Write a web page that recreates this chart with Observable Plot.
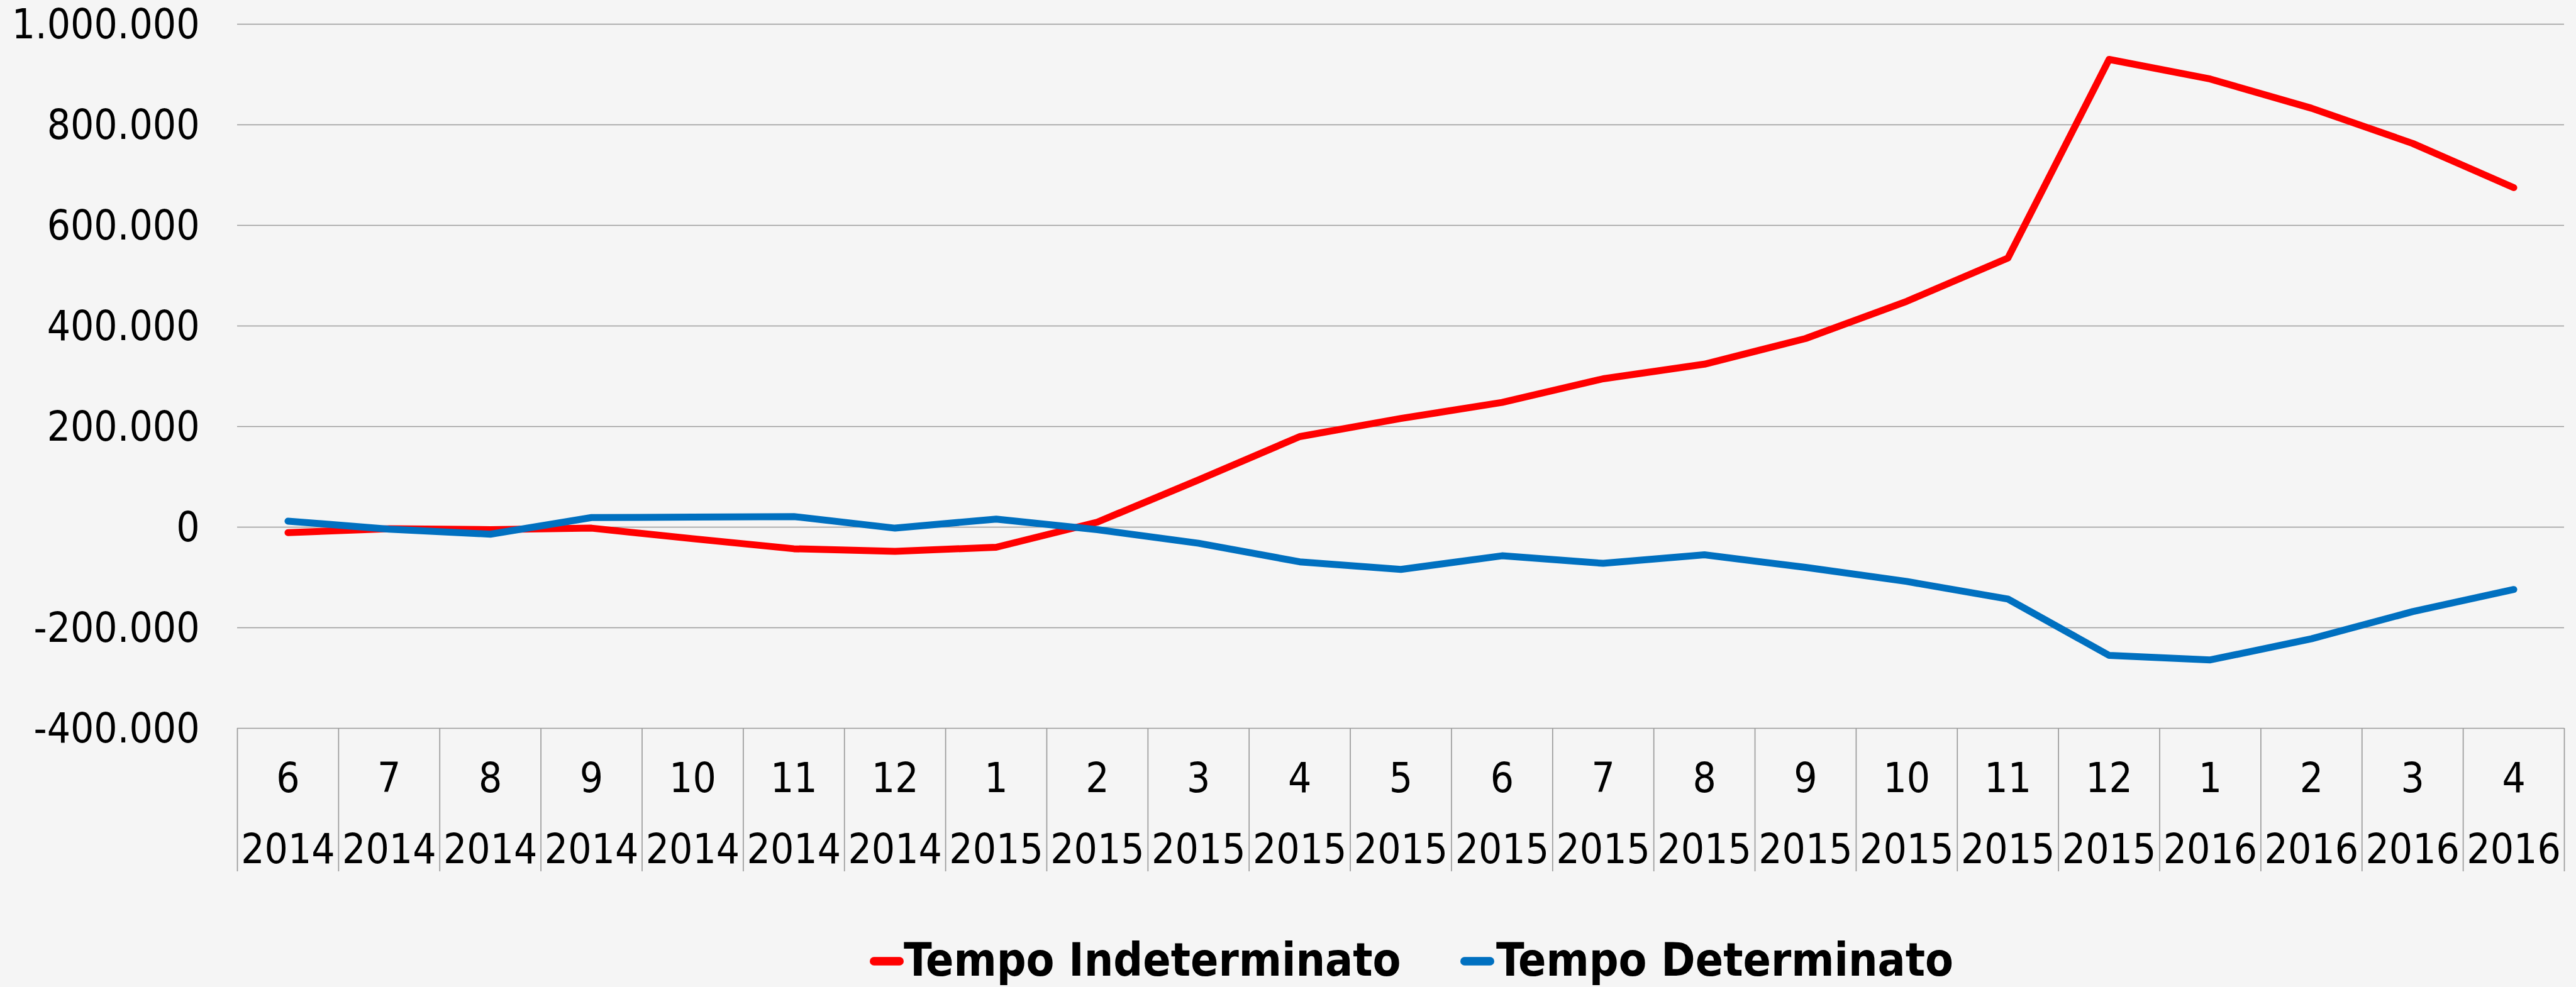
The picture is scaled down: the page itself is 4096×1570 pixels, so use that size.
<!DOCTYPE html>
<html>
<head>
<meta charset="utf-8">
<script src="https://cdn.jsdelivr.net/npm/d3@7"></script>
<script src="https://cdn.jsdelivr.net/npm/@observablehq/plot@0.6"></script>
<style>
  html, body { margin: 0; padding: 0; background: #f5f5f5; }
  #wrap { position: relative; width: 4096px; height: 1570px; background: #f5f5f5; overflow: hidden; }
  #wrap svg { display: block; }
</style>
</head>
<body>
<div id="wrap"></div>
<script>
// ---- data ----
const months = [6, 7, 8, 9, 10, 11, 12, 1, 2, 3, 4, 5, 6, 7, 8, 9, 10, 11, 12, 1, 2, 3, 4];
const years = [2014, 2014, 2014, 2014, 2014, 2014, 2014,
  2015, 2015, 2015, 2015, 2015, 2015, 2015, 2015, 2015, 2015, 2015, 2015,
  2016, 2016, 2016, 2016];
const indeterminato = [-11000, -3000, -5000, -2000, -23000, -43000, -48000, -40000,
  10000, 94000, 180000, 216000, 248000, 295000, 324000, 375000, 449000, 535000,
  930000, 891000, 833000, 763000, 675000];
const determinato = [12000, -4000, -14000, 19000, 20000, 21000, -2000, 16000,
  -5000, -32000, -69000, -84000, -57000, -72000, -55000, -80000, -108000, -143000,
  -255000, -264000, -222000, -168000, -124000];
const seriesNames = ["Tempo Indeterminato", "Tempo Determinato"];
const seriesColors = ["#ff0000", "#0070c0"];
const yTicks = [-400000, -200000, 0, 200000, 400000, 600000, 800000, 1000000];

// ---- build table ----
const idx = months.map((_, i) => i);
const rows = [
  ...indeterminato.map((v, i) => ({i, v, s: seriesNames[0]})),
  ...determinato.map((v, i) => ({i, v, s: seriesNames[1]}))
];
const bounds = d3.range(idx.length + 1).map(i => i - 0.5);
const itFormat = d3.formatLocale({decimal: ",", thousands: ".", grouping: [3], currency: ["€", ""], minus: "-"}).format(",");

const FONT = "'DejaVu Sans Condensed', 'DejaVu Sans', sans-serif";
const FS = 65.3;
const GRID = "#9b9b9b";

const chart = Plot.plot({
  width: 4096,
  height: 1400,
  marginLeft: 377,
  marginRight: 19,
  marginTop: 38,
  marginBottom: 242,
  style: `background:#f5f5f5;font-family:${FONT};font-stretch:condensed;font-size:${FS}px;color:#000;overflow:visible;`,
  x: {type: "linear", domain: [-0.5, idx.length - 0.5]},
  y: {domain: [-400000, 1000000]},
  color: {domain: seriesNames, range: seriesColors},
  marks: [
    Plot.ruleY(yTicks, {stroke: GRID, strokeWidth: 1.7}),
    Plot.axisY(yTicks, {tickSize: 0, tickPadding: 60, tickFormat: itFormat, fontSize: FS, label: null, fill: "#000", dy: 2}),
    Plot.axisX(bounds, {tickSize: 228, tickFormat: () => "", stroke: GRID, strokeWidth: 1.7, label: null}),
    Plot.axisX(idx, {tickSize: 0, tickPadding: 55, tickFormat: i => String(months[i]), fontSize: FS, label: null, fill: "#000"}),
    Plot.axisX(idx, {tickSize: 0, tickPadding: 168, tickFormat: i => String(years[i]), fontSize: FS, label: null, fill: "#000"}),
    Plot.line(rows, {x: "i", y: "v", z: "s", stroke: "s", strokeWidth: 11, strokeLinecap: "round", strokeLinejoin: "round"})
  ]
});
document.getElementById("wrap").appendChild(chart);

// ---- legend ----
const ns = "http://www.w3.org/2000/svg";
const leg = document.createElementNS(ns, "svg");
leg.setAttribute("width", 4096);
leg.setAttribute("height", 170);
leg.setAttribute("style", `font-family:${FONT};font-stretch:condensed;`);
const legendItems = [
  {name: seriesNames[0], color: seriesColors[0], x0: 1383, x1: 1437, tx: 1437},
  {name: seriesNames[1], color: seriesColors[1], x0: 2322, x1: 2376, tx: 2379}
];
for (const it of legendItems) {
  const ln = document.createElementNS(ns, "line");
  ln.setAttribute("x1", it.x0 + 6.7);
  ln.setAttribute("x2", it.x1 - 6.7);
  ln.setAttribute("y1", 129);
  ln.setAttribute("y2", 129);
  ln.setAttribute("stroke", it.color);
  ln.setAttribute("stroke-width", 13.4);
  ln.setAttribute("stroke-linecap", "round");
  leg.appendChild(ln);
  const t = document.createElementNS(ns, "text");
  t.setAttribute("x", it.tx);
  t.setAttribute("y", 152);
  t.setAttribute("font-size", 72.8);
  t.setAttribute("font-weight", "bold");
  t.setAttribute("fill", "#000");
  t.textContent = it.name;
  leg.appendChild(t);
}
document.getElementById("wrap").appendChild(leg);
</script>
</body>
</html>
